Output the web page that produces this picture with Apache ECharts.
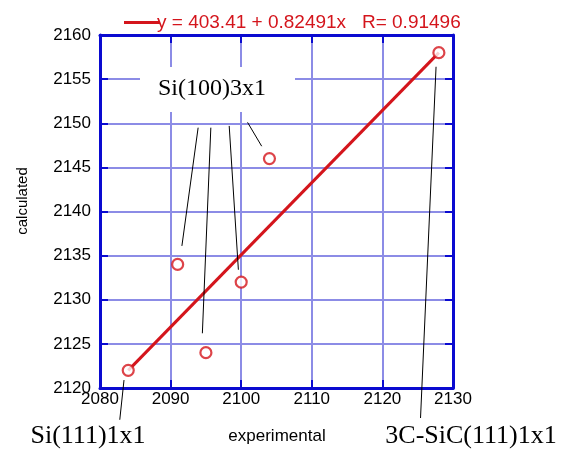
<!DOCTYPE html>
<html>
<head>
<meta charset="utf-8">
<script src="https://cdn.jsdelivr.net/npm/echarts@6/dist/echarts.min.js"></script>
<style>
  html, body { margin: 0; padding: 0; background: #fff; }
  #chart { width: 570px; height: 450px; }
</style>
</head>
<body>
<div id="chart"></div>
<script>
// measured points (experimental, calculated)
const experimental = [2084, 2091, 2095, 2100, 2104, 2128];
const calculated = [2122, 2134, 2124, 2132, 2146, 2158];

// linear fit as drawn
const fitX = [2084, 2128];
const fitY = [2122, 2158];
const fitName = "y = 403.41 + 0.82491x   R= 0.91496";

// axis ticks
const xTicks = [2080, 2090, 2100, 2110, 2120, 2130];
const yTicks = [2120, 2125, 2130, 2135, 2140, 2145, 2150, 2155, 2160];

// leader lines from labels to points, in data units [x1, y1, x2, y2]
const leaders = [
  [2093.9, 2149.5, 2091.6, 2136.1],
  [2095.7, 2149.5, 2094.5, 2126.2],
  [2098.3, 2149.7, 2099.6, 2133.4],
  [2100.9, 2150.1, 2102.9, 2147.4],
  [2083.4, 2120.9, 2082.8, 2116.4],
  [2127.6, 2156.4, 2125.4, 2116.6],
];

const RED = "#d4151c";
const AXIS = "#0a0ad0";
const GRID = "#8c8ce6";
const SANS = "Liberation Sans, Arial, sans-serif";
const SERIF = "Liberation Serif, Times New Roman, serif";

const chart = echarts.init(document.getElementById("chart"));

const baseAxis = {
  type: "value",
  axisLine: { show: true, onZero: false, lineStyle: { color: AXIS, width: 3 } },
  axisTick: { show: true, inside: true, length: 8, lineStyle: { color: AXIS, width: 2 } },
  axisLabel: { color: "#000", fontFamily: SANS, fontSize: 17, formatter: (v) => String(v) },
};

const leaderSeries = leaders.map((l) => ({
  type: "line",
  data: [[l[0], l[1]], [l[2], l[3]]],
  symbol: "none",
  silent: true,
  clip: false,
  lineStyle: { color: "#000", width: 1 },
  z: 3,
}));

chart.setOption({
  animation: false,
  grid: { left: 100, top: 35, width: 353, height: 353 },
  legend: {
    left: 119,
    top: 8,
    itemWidth: 36,
    itemHeight: 3,
    itemGap: 0,
    icon: "rect",
    data: [fitName],
    textStyle: { color: RED, fontFamily: SANS, fontSize: 19, padding: [0, 0, 0, -8] },
  },
  xAxis: [
    {
      ...baseAxis,
      min: xTicks[0],
      max: xTicks[xTicks.length - 1],
      interval: 10,
      axisLabel: { ...baseAxis.axisLabel, margin: 3 },
      splitLine: { show: true, lineStyle: { color: GRID, width: 2 } },
    },
    {
      ...baseAxis,
      position: "top",
      min: xTicks[0],
      max: xTicks[xTicks.length - 1],
      interval: 10,
      axisLabel: { show: false },
      splitLine: { show: false },
    },
  ],
  yAxis: [
    {
      ...baseAxis,
      min: yTicks[0],
      max: yTicks[yTicks.length - 1],
      interval: 5,
      axisLabel: { ...baseAxis.axisLabel, margin: 9 },
      splitLine: { show: true, lineStyle: { color: GRID, width: 2 } },
    },
    {
      ...baseAxis,
      position: "right",
      min: yTicks[0],
      max: yTicks[yTicks.length - 1],
      interval: 5,
      axisLabel: { show: false },
      splitLine: { show: false },
    },
  ],
  series: [
    {
      name: fitName,
      type: "line",
      data: fitX.map((x, i) => [x, fitY[i]]),
      symbol: "none",
      lineStyle: { color: RED, width: 3 },
      itemStyle: { color: RED },
      z: 3,
    },
    ...leaderSeries,
    {
      name: "points",
      type: "scatter",
      data: experimental.map((x, i) => [x, calculated[i]]),
      symbol: "circle",
      symbolSize: 11,
      itemStyle: { color: "#fff", borderColor: RED, borderWidth: 2.2 },
      z: 4,
    },
  ],
  graphic: [
    { type: "rect", left: 140, top: 67, shape: { width: 155, height: 45 }, style: { fill: "#fff" }, z: 50 },
    {
      type: "text", x: 212, y: 89, z: 51,
      style: { text: "Si(100)3x1", font: "24px " + SERIF, fill: "#000", align: "center", verticalAlign: "middle" },
    },
    {
      type: "text", x: 88, y: 436, z: 51,
      style: { text: "Si(111)1x1", font: "26px " + SERIF, fill: "#000", align: "center", verticalAlign: "middle" },
    },
    {
      type: "text", x: 471, y: 436, z: 51,
      style: { text: "3C-SiC(111)1x1", font: "26px " + SERIF, fill: "#000", align: "center", verticalAlign: "middle" },
    },
    {
      type: "text", x: 277, y: 436, z: 51,
      style: { text: "experimental", font: "17px " + SANS, fill: "#000", align: "center", verticalAlign: "middle" },
    },
    {
      type: "text", x: 23, y: 201, rotation: Math.PI / 2, z: 51,
      style: { text: "calculated", font: "15px " + SANS, fill: "#000", align: "center", verticalAlign: "middle" },
    },
  ],
});
</script>
</body>
</html>
